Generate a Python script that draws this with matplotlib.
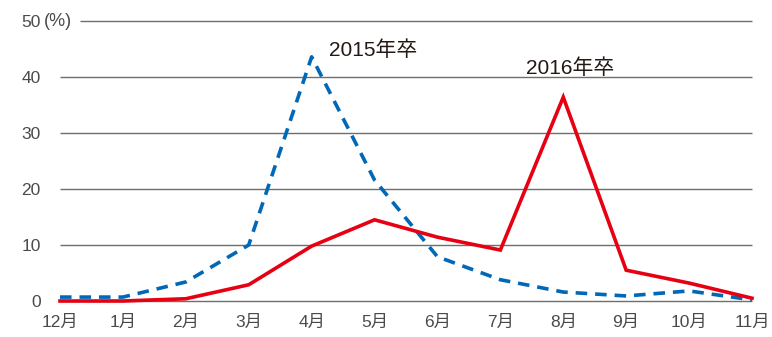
import matplotlib
matplotlib.use("Agg")
import matplotlib.pyplot as plt
import numpy as np

plt.rcParams['font.family'] = ['Liberation Sans', 'Noto Sans CJK JP', 'DejaVu Sans']

# データ（月別の割合 %）
months = ['12月', '1月', '2月', '3月', '4月', '5月', '6月', '7月', '8月', '9月', '10月', '11月']
grad_2015 = [0.7, 0.7, 3.4, 10.0, 43.6, 21.6, 7.9, 3.8, 1.6, 0.9, 1.8, 0.2]
grad_2016 = [0.0, 0.0, 0.4, 2.9, 9.8, 14.5, 11.4, 9.1, 36.4, 5.5, 3.2, 0.5]
y_ticks = [0, 10, 20, 30, 40, 50]

text_col = '#4a4a4a'
grid_col = '#6e6e6e'

fig = plt.figure(figsize=(7.72, 3.37), dpi=100)
ax = fig.add_axes([60 / 772, 36 / 337, 692 / 772, 280 / 337])

x = np.arange(len(months))
ax.set_xlim(0, len(months) - 1)
ax.set_ylim(0, 50)

# 横線（50 は (%) の右から）
for v in y_ticks:
    x0 = 0.32 if v == 50 else 0
    ax.hlines(v, x0, len(months) - 1, color=grid_col, lw=1.0, zorder=1, clip_on=False)

ax.plot(x, grad_2015, color='#0068b7', lw=2.6, ls=(0, (3.2, 2.2)), zorder=3, clip_on=False)
ax.plot(x, grad_2016, color='#e60012', lw=2.6, zorder=4, clip_on=False,
        solid_joinstyle='miter')

for s in ax.spines.values():
    s.set_visible(False)
ax.set_xticks(x)
ax.set_xticklabels(months, fontsize=12.5, color=text_col)
ax.set_yticks(y_ticks)
ax.set_yticklabels([str(v) for v in y_ticks], fontsize=12.5, color=text_col)
ax.tick_params(length=0, axis='x', pad=10)
ax.tick_params(length=0, axis='y', pad=14)
ax.text(-0.25, 50, '(%)', fontsize=13, color=text_col, va='center', ha='left')

ax.text(4.28, 44.8, '2015年卒', fontsize=15, color='#231815', va='center', ha='left')
ax.text(7.4, 41.6, '2016年卒', fontsize=15, color='#231815', va='center', ha='left')

fig.savefig('out.png', dpi=100)
